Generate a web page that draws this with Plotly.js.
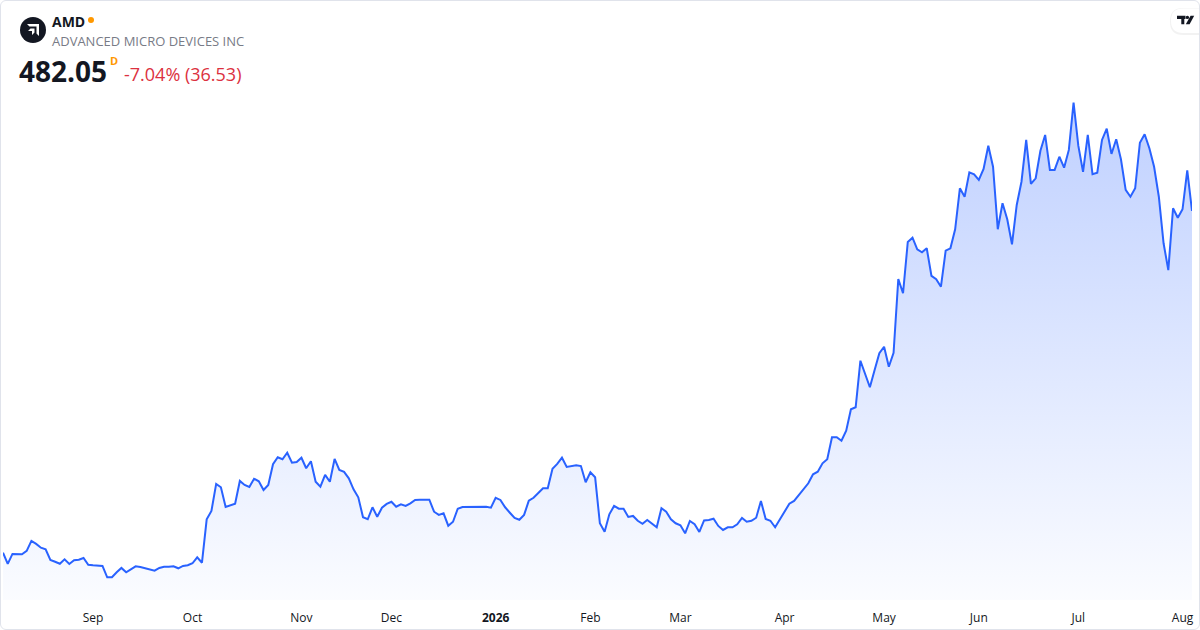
<!DOCTYPE html>
<html>
<head>
<meta charset="utf-8">
<script src="https://cdn.plot.ly/plotly-3.0.1.min.js"></script>
<style>
  html, body { margin: 0; padding: 0; background: #ffffff; }
  #wrap { position: relative; width: 1200px; height: 630px; overflow: hidden; }
  #chart { width: 1200px; height: 630px; }
  #frame { position: absolute; left: 0; top: 0; width: 1200px; height: 630px; box-sizing: border-box;
           border: 1px solid #e0e3eb; border-radius: 6px; pointer-events: none; }
</style>
</head>
<body>
<div id="wrap">
  <div id="chart"></div>
  <div id="frame"></div>
</div>
<script>
// ---- Data (daily closes, one per trading day, Aug 2025 – Aug 2026) ----
const closes = [
  174.5,164.4,173.4,173.4,173.1,176.1,185.1,182.4,179.0,177.6,
  168.0,166.4,164.6,168.6,164.4,167.7,168.2,169.8,163.7,163.2,
  162.8,162.6,152.4,152.4,156.9,160.8,156.9,159.9,162.3,161.7,
  160.5,159.0,158.3,160.8,161.9,161.9,162.3,160.5,162.6,163.2,
  165.0,170.4,165.5,204.6,212.1,236.4,233.4,215.7,217.2,218.6,
  239.1,235.5,233.7,241.1,238.8,231.0,235.5,254.1,260.4,258.6,
  264.5,255.5,256.2,260.0,250.5,256.8,238.4,233.9,244.5,238.4,
  258.9,249.0,247.2,241.5,231.6,224.4,206.4,204.6,215.4,206.9,
  215.0,218.4,220.4,215.9,218.1,
  216.6,219.0,222.0,222.2,222.2,222.2,211.4,208.5,210.0,198.8,
  202.4,214.1,215.7,215.7,215.7,215.7,216.3,215.9,215.0,224.0,
  222.0,215.4,210.5,205.8,204.2,208.5,221.3,224.0,228.3,232.5,
  232.5,250.1,254.4,260.0,251.7,252.3,253.2,252.5,237.9,246.9,
  242.4,201.0,193.4,209.1,216.6,214.1,214.1,206.7,207.6,203.3,
  200.6,203.9,201.0,197.4,214.5,211.4,204.6,201.0,199.2,192.0,
  203.1,200.1,193.2,203.6,203.9,205.1,198.6,195.0,197.4,197.4,
  200.1,205.8,202.4,203.3,206.0,221.1,204.8,203.3,197.4,204.6,
  211.8,218.6,221.1,226.5,
  232.5,237.0,245.1,247.4,255.0,258.6,278.4,278.4,275.3,284.3,
  303.6,305.4,347.3,336.0,323.4,339.0,354.0,359.9,341.9,354.5,
  420.9,408.0,454.2,458.0,447.6,444.9,448.5,423.6,420.6,413.9,
  446.3,448.5,465.6,
  502.5,494.9,516.9,515.1,510.0,519.9,540.8,521.9,465.6,489.0,
  474.6,452.1,487.5,508.4,546.0,506.4,511.5,536.3,550.5,519.0,
  519.0,530.9,521.0,537.0,579.5,540.8,517.2,550.5,515.1,516.5,
  546.0,556.1,533.4,546.6,528.6,501.0,494.9,502.5,543.5,551.1,
  538.5,521.9,494.9,453.0,428.9,484.5,476.0,483.6,518.6,482.05
];
// index of the first trading day of each month, and its label
const monthStartIdx = [19, 40, 63, 82, 104, 124, 143, 165, 186, 206, 227, 249];
const monthLabels   = ["Sep","Oct","Nov","Dec","<b>2026</b>","Feb","Mar","Apr","May","Jun","Jul","Aug"];

const ticker = "AMD";
const company = "ADVANCED MICRO DEVICES INC";
const lastPrice = "482.05";
const changeText = "-7.04% (36.53)";

// ---- Layout helpers (pixel -> paper) ----
const W = 1200, H = 630;
const M = { l: 3, r: 8, t: 0, b: 30 };
const PW = W - M.l - M.r, PH = H - M.t - M.b;
const px = x => (x - M.l) / PW;
const py = y => (PH + M.t - y) / PH;

const idx = closes.map((_, i) => i);
const FONT = "Open Sans, Noto Sans, sans-serif";

const trace = {
  x: idx, y: closes, type: "scatter", mode: "lines",
  line: { color: "#2962ff", width: 2 },
  fill: "tozeroy",
  fillgradient: {
    type: "vertical", start: 131.95, stop: 585,
    colorscale: [[0, "rgba(41,98,255,0.02)"], [1, "rgba(41,98,255,0.30)"]]
  },
  hoverinfo: "skip"
};

function pill(x0, y0, x1, y1, r) {
  return "M" + px(x0 + r) + "," + py(y0) +
    " L" + px(x1 - r) + "," + py(y0) +
    " Q" + px(x1) + "," + py(y0) + " " + px(x1) + "," + py(y0 + r) +
    " L" + px(x1) + "," + py(y1 - r) +
    " Q" + px(x1) + "," + py(y1) + " " + px(x1 - r) + "," + py(y1) +
    " L" + px(x0 + r) + "," + py(y1) +
    " Q" + px(x0) + "," + py(y1) + " " + px(x0) + "," + py(y1 - r) +
    " L" + px(x0) + "," + py(y0 + r) +
    " Q" + px(x0) + "," + py(y0) + " " + px(x0 + r) + "," + py(y0) + " Z";
}
function poly(pts) {
  return "M" + pts.map(p => px(p[0]) + "," + py(p[1])).join(" L") + " Z";
}

const shapes = [
  // AMD logo disc
  { type: "circle", xref: "paper", yref: "paper", xsizemode: "pixel", ysizemode: "pixel",
    xanchor: px(33), yanchor: py(30), x0: -13, x1: 13, y0: -13, y1: 13,
    fillcolor: "#131722", line: { width: 0 } },
  { type: "path", xref: "paper", yref: "paper", fillcolor: "#ffffff", line: { width: 0 },
    path: poly([[27, 24], [39, 24], [39, 36], [36.5, 33.5], [36.5, 26.5], [29.5, 26.5]]) },
  { type: "path", xref: "paper", yref: "paper", fillcolor: "#ffffff", line: { width: 0 },
    path: poly([[30.5, 28.5], [34.5, 28.5], [34.5, 32.5], [32, 35], [32, 31], [28, 31]]) },
  // live dot
  { type: "circle", xref: "paper", yref: "paper", xsizemode: "pixel", ysizemode: "pixel",
    xanchor: px(91), yanchor: py(20), x0: -3, x1: 3, y0: -3, y1: 3,
    fillcolor: "#ff9800", line: { width: 0 } },
  // TradingView badge
  { type: "path", xref: "paper", yref: "paper", fillcolor: "rgba(0,0,0,0.05)", line: { width: 0 },
    path: pill(1170, 8, 1214, 35, 13) },
  { type: "path", xref: "paper", yref: "paper", fillcolor: "#ffffff", line: { width: 0 },
    path: pill(1171, 8.5, 1214, 33, 12) },
  { type: "path", xref: "paper", yref: "paper", fillcolor: "#131722", line: { width: 0 },
    path: poly([[1177, 15.7], [1185.5, 15.7], [1185.5, 19], [1184.3, 19], [1184.3, 24.3], [1181.3, 24.3], [1181.3, 19], [1177, 19]]) },
  { type: "circle", xref: "paper", yref: "paper", xsizemode: "pixel", ysizemode: "pixel",
    xanchor: px(1187.4), yanchor: py(17.4), x0: -1.7, x1: 1.7, y0: -1.7, y1: 1.7,
    fillcolor: "#131722", line: { width: 0 } },
  { type: "path", xref: "paper", yref: "paper", fillcolor: "#131722", line: { width: 0 },
    path: poly([[1190.6, 15.7], [1194.2, 15.7], [1189.6, 24.3], [1185.8, 24.3]]) }
];

const annotations = [
  { text: "<b>" + ticker + "</b>", x: px(50), y: py(21), xanchor: "left", yanchor: "middle",
    font: { family: FONT, size: 14, color: "#131722" } },
  { text: company, x: px(50), y: py(41), xanchor: "left", yanchor: "middle",
    font: { family: FONT, size: 13, color: "#787b86" } },
  { text: "<b>" + lastPrice + "</b>", x: px(17), y: py(70.5), xanchor: "left", yanchor: "middle",
    font: { family: FONT, size: 28, color: "#131722" } },
  { text: "<b>D</b>", x: px(108), y: py(60.5), xanchor: "left", yanchor: "middle",
    font: { family: FONT, size: 11, color: "#ff9800" } },
  { text: changeText, x: px(122), y: py(74), xanchor: "left", yanchor: "middle",
    font: { family: FONT, size: 18, color: "#dc3140" } }
].map(a => Object.assign({ xref: "paper", yref: "paper", showarrow: false }, a));

const layout = {
  width: W, height: H, margin: M,
  paper_bgcolor: "#ffffff", plot_bgcolor: "#ffffff",
  showlegend: false,
  font: { family: FONT },
  xaxis: {
    range: [0, closes.length - 1], fixedrange: true,
    tickmode: "array", tickvals: monthStartIdx, ticktext: monthLabels,
    showgrid: false, zeroline: false, showline: false, ticks: "",
    ticklabelstandoff: 9,
    tickfont: { family: FONT, size: 12, color: "#131722" }
  },
  yaxis: { range: [131.95, 671.95], visible: false, fixedrange: true },
  shapes: shapes,
  annotations: annotations
};

Plotly.newPlot("chart", [trace], layout, { staticPlot: true, displayModeBar: false });
</script>
</body>
</html>
